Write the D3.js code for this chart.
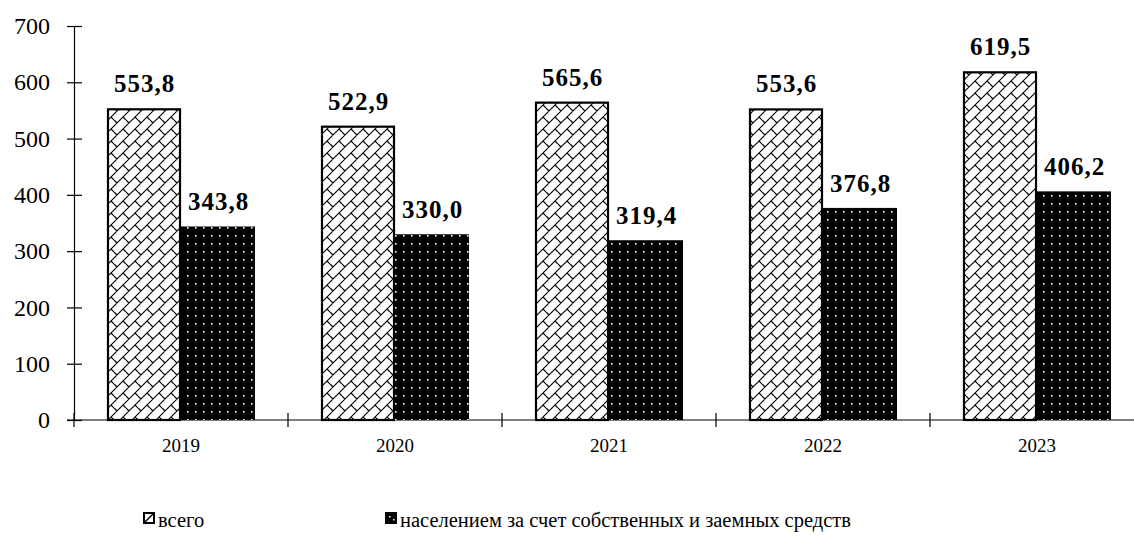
<!DOCTYPE html>
<html>
<head>
<meta charset="utf-8">
<script src="https://cdn.jsdelivr.net/npm/d3@7"></script>
<style>
  html, body { margin: 0; padding: 0; background: #fff; }
  svg { display: block; }
</style>
</head>
<body>
<svg id="chart" width="1134" height="539"></svg>
<script>
// Years on the category axis
const years = ["2019", "2020", "2021", "2022", "2023"];
// Total volume
const totalValues = [553.8, 522.9, 565.6, 553.6, 619.5];
// Built by the population with own and borrowed funds
const populationValues = [343.8, 330.0, 319.4, 376.8, 406.2];
// Series names for the legend
const seriesNames = ["всего", "населением за счет собственных и заемных средств"];
// Value axis ticks
const yTicks = [0, 100, 200, 300, 400, 500, 600, 700];

const FONT = "Liberation Serif";
const svg = d3.select("#chart");
const fmt = v => v.toFixed(1).replace(".", ",");

// Fill patterns: diagonal brick for totals, white dots on black for population
const defs = svg.append("defs");
const brick = defs.append("pattern")
  .attr("id", "brick").attr("patternUnits", "userSpaceOnUse")
  .attr("width", 12).attr("height", 12);
brick.append("rect").attr("width", 12).attr("height", 12).attr("fill", "#fff");
brick.append("path")
  .attr("d", "M0,12 L12,0 M-3,3 L3,-3 M9,15 L15,9 M3,9 L6,12 M6,0 L9,3")
  .attr("stroke", "#000").attr("stroke-width", 1.1).attr("fill", "none");

const dots = defs.append("pattern")
  .attr("id", "dots").attr("patternUnits", "userSpaceOnUse")
  .attr("width", 8).attr("height", 8);
dots.append("rect").attr("width", 8).attr("height", 8).attr("fill", "#000");
dots.append("rect").attr("x", 3).attr("y", 3).attr("width", 1.6).attr("height", 1.6).attr("fill", "#fff");

// Scales
const x = d3.scaleBand().domain(years).range([74, 1144]).paddingInner(0).paddingOuter(0);
const y = d3.scaleLinear().domain([0, 700]).range([420, 26]);
const groupPad = 33;
const barW = (x.bandwidth() - 2 * groupPad) / 2;

// Value axis
const yAxis = svg.append("g").attr("transform", "translate(74,0)")
  .call(d3.axisLeft(y).tickValues(yTicks).tickSize(0).tickPadding(24).tickFormat(d3.format("d")));
yAxis.attr("font-family", FONT).attr("font-size", 24);
yAxis.select(".domain").attr("stroke", "#000").attr("stroke-width", 1.2);
yAxis.selectAll("text").attr("fill", "#000").style("font-family", FONT).style("font-size", "24px");
yAxis.selectAll(".tick").append("line")
  .attr("x1", -7).attr("x2", 8).attr("stroke", "#000").attr("stroke-width", 1.2);

// Category axis
const xAxis = svg.append("g").attr("transform", "translate(0,420)");
xAxis.append("line").attr("x1", 67).attr("x2", 1144).attr("stroke", "#000").attr("stroke-width", 1.2);
const bounds = years.map(d => x(d)).concat([x(years[years.length - 1]) + x.bandwidth()]);
xAxis.selectAll(".ctick").data(bounds).join("line")
  .attr("x1", d => d).attr("x2", d => d).attr("y1", -7).attr("y2", 7)
  .attr("stroke", "#000").attr("stroke-width", 1.2);
xAxis.selectAll(".clabel").data(years).join("text")
  .attr("x", d => x(d) + x.bandwidth() / 2).attr("y", 32)
  .attr("text-anchor", "middle")
  .style("font-family", FONT).style("font-size", "19px").text(d => d);

// Bars with value labels
const series = [
  { values: totalValues, fill: "url(#brick)", stroke: "#000", sw: 2.2 },
  { values: populationValues, fill: "url(#dots)", stroke: "none", sw: 0 }
];
series.forEach((s, si) => {
  const g = svg.append("g");
  g.selectAll("rect").data(years).join("rect")
    .attr("x", (d) => x(d) + groupPad + si * barW + (si === 0 ? 1 : 0))
    .attr("y", (d, i) => y(s.values[i]) + (si === 0 ? 1 : 0))
    .attr("width", barW - (si === 0 ? 2 : 0))
    .attr("height", (d, i) => y(0) - y(s.values[i]) - (si === 0 ? 1 : 0))
    .attr("fill", s.fill)
    .attr("stroke", s.stroke).attr("stroke-width", s.sw);
  g.selectAll("text").data(years).join("text")
    .attr("x", d => x(d) + groupPad + si * barW + barW / 2 + 0.5)
    .attr("y", (d, i) => y(s.values[i]) - 16)
    .attr("text-anchor", "middle")
    .style("font-family", FONT).style("font-size", "25px").style("font-weight", "bold")
    .style("letter-spacing", "1px")
    .text((d, i) => fmt(s.values[i]));
});

// Legend
const legend = svg.append("g");
const legendX = [143, 385];
legendX.forEach((lx, i) => {
  legend.append("rect").attr("x", lx + 1).attr("y", 513).attr("width", 10).attr("height", 10)
    .attr("fill", i === 0 ? "#fff" : "#000").attr("stroke", "#000").attr("stroke-width", 2);
  if (i === 0) {
    legend.append("line").attr("x1", lx + 2).attr("y1", 522).attr("x2", lx + 10).attr("y2", 514)
      .attr("stroke", "#000").attr("stroke-width", 1.5);
  } else {
    legend.append("rect").attr("x", lx + 4).attr("y", 516).attr("width", 1.5).attr("height", 1.5).attr("fill", "#fff");
    legend.append("rect").attr("x", lx + 8).attr("y", 519).attr("width", 1.5).attr("height", 1.5).attr("fill", "#fff");
  }
  legend.append("text").attr("x", lx + 15).attr("y", 527)
    .style("font-family", FONT).style("font-size", "20.5px").text(seriesNames[i]);
});
</script>
</body>
</html>
